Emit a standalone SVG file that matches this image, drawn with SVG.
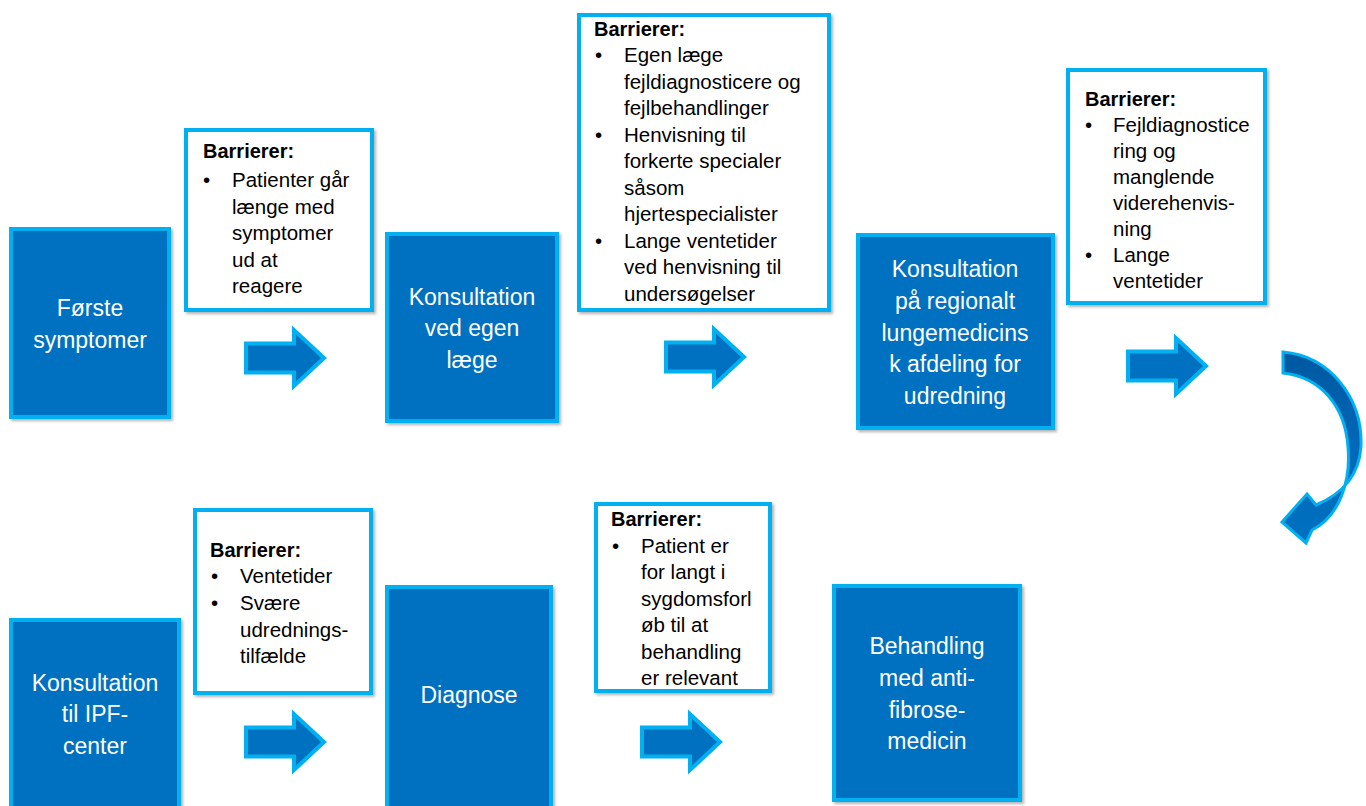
<svg xmlns="http://www.w3.org/2000/svg" width="1366" height="806" viewBox="0 0 1366 806">
<style>
.step{fill:#0070C0;stroke:#00B0F0;stroke-width:4}
.bar{fill:#FFFFFF;stroke:#00B0F0;stroke-width:4}
.st{font-family:"Liberation Sans",Arial,sans-serif;font-size:23px;fill:#FFFFFF;text-anchor:middle}
.bt{font-family:"Liberation Sans",Arial,sans-serif;font-size:20.5px;fill:#000000}
.bh{font-family:"Liberation Sans",Arial,sans-serif;font-size:20px;font-weight:bold;fill:#000000}
.arr{fill:#0070C0;stroke:#00B0F0;stroke-width:4;stroke-linejoin:miter}
</style>
<defs>
<filter id="sh" x="-10%" y="-10%" width="120%" height="120%">
<feDropShadow dx="2" dy="2" stdDeviation="1.5" flood-color="#000000" flood-opacity="0.3"/>
</filter>
<path id="ra" d="M0,-14.5 H48 V-28 L78,0 L48,28 V14.5 H0 Z"/>
<linearGradient id="cg" x1="0" y1="0" x2="0" y2="1">
<stop offset="0" stop-color="#0058A0"/>
<stop offset="0.5" stop-color="#0068B8"/>
<stop offset="1" stop-color="#0070C0"/>
</linearGradient>
</defs>
<rect width="1366" height="806" fill="#FFFFFF"/>

<g id="n1">
<rect class="step" x="11" y="229" width="158" height="188" filter="url(#sh)"/>
<text class="st" x="90" y="316">Første</text>
<text class="st" x="90" y="348">symptomer</text>
</g>

<g id="b1">
<rect class="bar" x="186" y="130" width="186" height="180" filter="url(#sh)"/>
<text class="bh" x="203" y="158">Barrierer:</text>
<text class="bt" x="203" y="187">•</text>
<text class="bt" x="232" y="187">Patienter går</text>
<text class="bt" x="232" y="213.5">længe med</text>
<text class="bt" x="232" y="240">symptomer</text>
<text class="bt" x="232" y="266.5">ud at</text>
<text class="bt" x="232" y="293">reagere</text>
</g>

<g id="n2">
<rect class="step" x="387" y="234" width="170" height="187" filter="url(#sh)"/>
<text class="st" x="472" y="305">Konsultation</text>
<text class="st" x="472" y="336">ved egen</text>
<text class="st" x="472" y="368">læge</text>
</g>

<g id="b2">
<rect class="bar" x="579" y="15" width="250" height="295" filter="url(#sh)"/>
<text class="bh" x="594" y="36">Barrierer:</text>
<text class="bt" x="595" y="62">•</text>
<text class="bt" x="624" y="62">Egen læge</text>
<text class="bt" x="624" y="88.5">fejldiagnosticere og</text>
<text class="bt" x="624" y="115">fejlbehandlinger</text>
<text class="bt" x="595" y="141.5">•</text>
<text class="bt" x="624" y="141.5">Henvisning til</text>
<text class="bt" x="624" y="168">forkerte specialer</text>
<text class="bt" x="624" y="194.5">såsom</text>
<text class="bt" x="624" y="221">hjertespecialister</text>
<text class="bt" x="595" y="247.5">•</text>
<text class="bt" x="624" y="247.5">Lange ventetider</text>
<text class="bt" x="624" y="274">ved henvisning til</text>
<text class="bt" x="624" y="300.5">undersøgelser</text>
</g>

<g id="n3">
<rect class="step" x="858" y="235" width="195" height="193" filter="url(#sh)"/>
<text class="st" x="955" y="277">Konsultation</text>
<text class="st" x="955" y="309">på regionalt</text>
<text class="st" x="955" y="341">lungemedicins</text>
<text class="st" x="955" y="372">k afdeling for</text>
<text class="st" x="955" y="404">udredning</text>
</g>

<g id="b3">
<rect class="bar" x="1068" y="70" width="197" height="233" filter="url(#sh)"/>
<text class="bh" x="1085" y="106">Barrierer:</text>
<text class="bt" x="1085" y="132">•</text>
<text class="bt" x="1113" y="132">Fejldiagnostice</text>
<text class="bt" x="1113" y="157.5">ring og</text>
<text class="bt" x="1113" y="183.5">manglende</text>
<text class="bt" x="1113" y="209.5">viderehenvis-</text>
<text class="bt" x="1113" y="235.5">ning</text>
<text class="bt" x="1085" y="262">•</text>
<text class="bt" x="1113" y="262">Lange</text>
<text class="bt" x="1113" y="288">ventetider</text>
</g>

<g id="n4">
<rect class="step" x="11" y="620" width="168" height="200" filter="url(#sh)"/>
<text class="st" x="95" y="691">Konsultation</text>
<text class="st" x="95" y="722">til IPF-</text>
<text class="st" x="95" y="754">center</text>
</g>

<g id="b4">
<rect class="bar" x="195" y="510" width="176" height="183" filter="url(#sh)"/>
<text class="bh" x="210" y="557">Barrierer:</text>
<text class="bt" x="211" y="583">•</text>
<text class="bt" x="240" y="583">Ventetider</text>
<text class="bt" x="211" y="610">•</text>
<text class="bt" x="240" y="610">Svære</text>
<text class="bt" x="240" y="636.5">udrednings-</text>
<text class="bt" x="240" y="663">tilfælde</text>
</g>

<g id="n5">
<rect class="step" x="387" y="587" width="164" height="230" filter="url(#sh)"/>
<text class="st" x="469" y="703">Diagnose</text>
</g>

<g id="b5">
<rect class="bar" x="596" y="504" width="174" height="187" filter="url(#sh)"/>
<text class="bh" x="611" y="526">Barrierer:</text>
<text class="bt" x="612" y="552.5">•</text>
<text class="bt" x="641" y="552.5">Patient er</text>
<text class="bt" x="641" y="579">for langt i</text>
<text class="bt" x="641" y="605.5">sygdomsforl</text>
<text class="bt" x="641" y="632">øb til at</text>
<text class="bt" x="641" y="658.5">behandling</text>
<text class="bt" x="641" y="685">er relevant</text>
</g>

<g id="n6">
<rect class="step" x="834" y="586" width="186" height="214" filter="url(#sh)"/>
<text class="st" x="927" y="654">Behandling</text>
<text class="st" x="927" y="686">med anti-</text>
<text class="st" x="927" y="718">fibrose-</text>
<text class="st" x="927" y="749">medicin</text>
</g>

<g id="connectors">
<use href="#ra" class="arr" transform="translate(246,358)"/>
<use href="#ra" class="arr" transform="translate(666,357)"/>
<use href="#ra" class="arr" transform="translate(1128,366)"/>
<use href="#ra" class="arr" transform="translate(246,742)"/>
<use href="#ra" class="arr" transform="translate(642,742)"/>
<path d="M1283,352 C1330,356 1363,398 1361,447 C1359,476 1342,494 1316,505 L1307,494 L1282,522 L1306,543 L1312,530 C1340,516 1351,480 1348,447 C1345,405 1320,377 1283,373 Z" fill="url(#cg)" stroke="#00B0F0" stroke-width="3" stroke-linejoin="miter"/>
</g>
</svg>
